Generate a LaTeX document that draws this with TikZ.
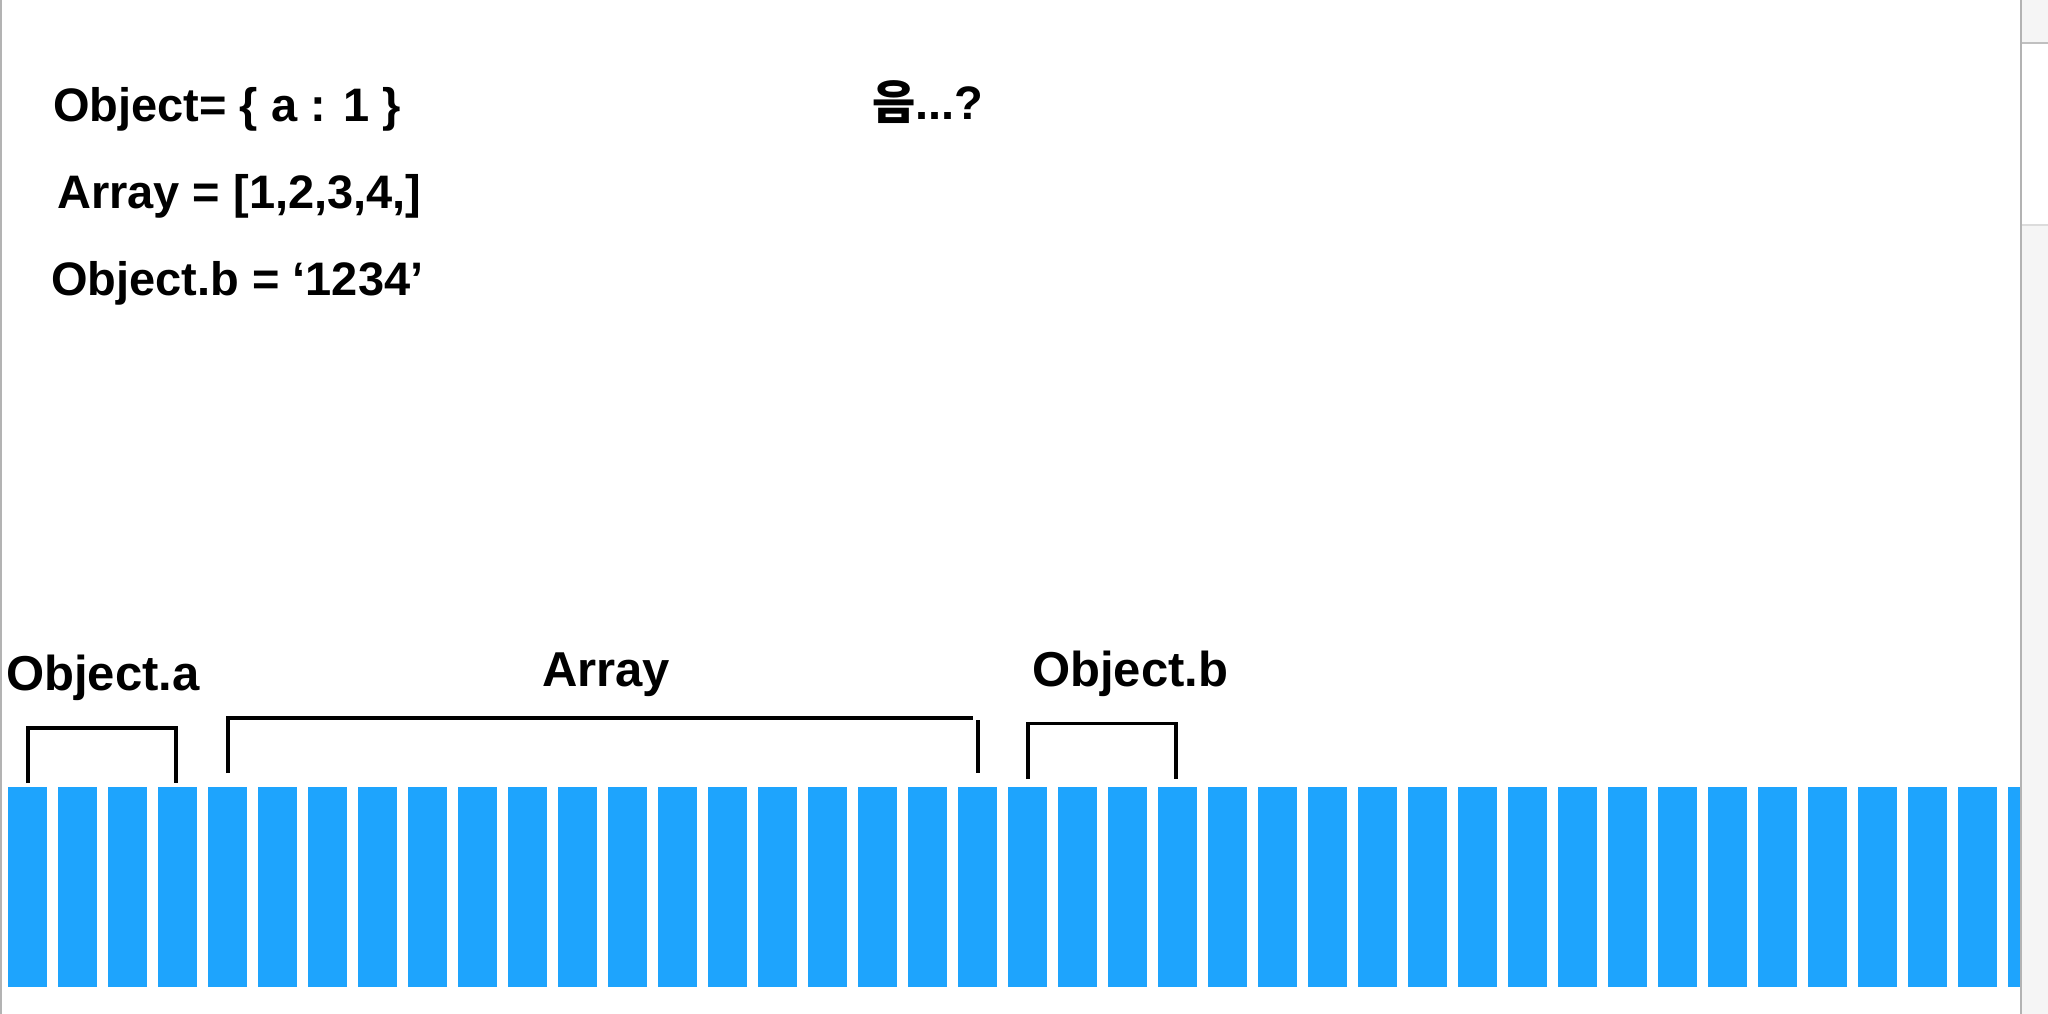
\documentclass[tikz,border=0pt]{standalone}
\usepackage{fontspec}
\setmainfont{Liberation Sans}
\newfontfamily\kr{Noto Sans CJK KR}
\definecolor{barblue}{RGB}{30,164,253}
\definecolor{edgegray}{RGB}{179,179,179}
\definecolor{panelgray}{RGB}{245,245,245}
\definecolor{sepgray}{RGB}{192,192,192}
\definecolor{sepgraylight}{RGB}{220,220,220}
\tikzset{
  codetext/.style={anchor=base west, inner sep=0pt, font=\fontsize{47}{56}\selectfont\bfseries},
  labeltext/.style={anchor=base west, inner sep=0pt, font=\fontsize{49}{58}\selectfont\bfseries},
  brace/.style={line width=3.5pt, black},
  bar/.style={fill=barblue, draw=none}
}
\begin{document}
\begin{tikzpicture}[x=1pt,y=-1pt]
\useasboundingbox (0,0) rectangle (2048,1014);
\fill[white] (0,0) rectangle (2048,1014);
% window edges
\fill[edgegray] (0,0) rectangle (2,1014);
\fill[panelgray] (2022,0) rectangle (2048,1014);
\fill[white] (2022,44) rectangle (2048,224);
\fill[sepgray] (2022,42.5) rectangle (2048,44);
\fill[sepgraylight] (2022,224) rectangle (2048,226);
\fill[edgegray] (2020,0) rectangle (2022,1014);
% code lines
\node[codetext] (l1) at (53,122) {Object= \{ a : 1 \}};
\node[codetext] (l2) at (57,208) {Array = [1,2,3,4,]};
\node[codetext] (l3) at (51,295) {Object.b = ‘1234’};
\node[codetext] (q) at (872,120) {{\kr\bfseries 음}...?};
% memory bars
\foreach \k in {0,...,39} {
  \fill[bar] ({8+50*\k},787) rectangle ({47+50*\k},987);
}
\fill[bar] (2008,787) rectangle (2020,987);
% labels
\node[labeltext] (oa) at (6,690) {Object.a};
\node[labeltext] (ar) at (542,686) {Array};
\node[labeltext] (ob) at (1032,686) {Object.b};
% brackets
\coordinate (oaL) at (28,783);
\coordinate (oaR) at (176,783);
\draw[brace] (oaL) -- (28,728) -- (176,728) -- (oaR);
\coordinate (arL) at (228,773);
\coordinate (arR) at (978,773);
\draw[brace] (arL) -- (228,718) -- (973,718);
\draw[brace] (978,720) -- (arR);
\coordinate (obL) at (1028,779);
\coordinate (obR) at (1176,779);
\draw[brace] (obL) -- (1028,723.5) -- (1176,723.5) -- (obR);
\end{tikzpicture}
\end{document}
